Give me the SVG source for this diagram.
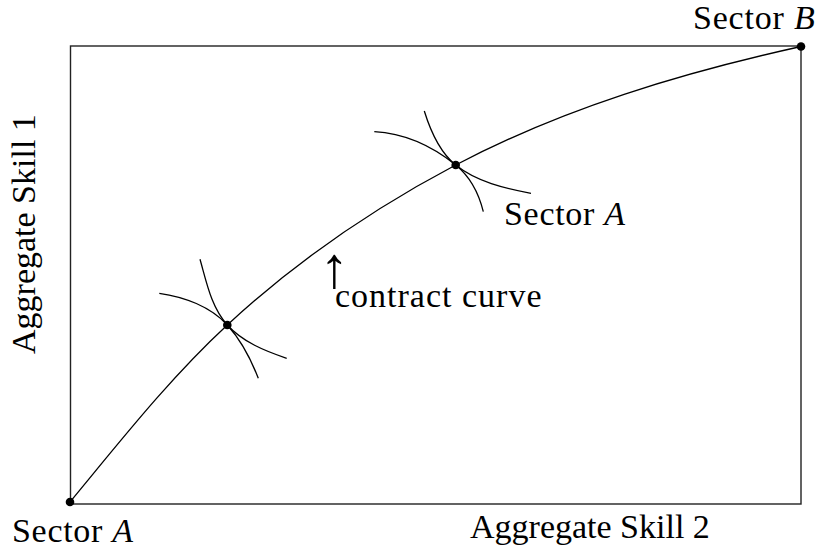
<svg xmlns="http://www.w3.org/2000/svg" width="818" height="548" viewBox="0 0 818 548">
<style>
.ln{fill:none;stroke:#000;stroke-width:1.3}
.box{fill:none;stroke:#222;stroke-width:1.4}
.dot{fill:#000}
.it{font-style:italic}
</style>
<rect width="818" height="548" fill="#fff"/>
<g id="box"><rect class="box" x="70.5" y="46" width="730.5" height="458"/></g>
<g id="connectors">
<path id="contract-curve" class="ln" d="M70,502 C120.4,441.1 169.3,378.7 227.3,325 C295.5,261.8 373.4,208.4 455.7,165 C563.6,108.1 681.9,72.9 801,46.5"/>
<path id="ic-a1" class="ln" d="M200,259.3 C206.6,282.4 211.2,307.2 227.3,325 C242.7,342 264.9,351 286.7,358.3"/>
<path id="ic-b1" class="ln" d="M159.3,293.3 C184.1,296.8 210.6,306.5 227.3,325 C241.1,340.2 250.9,359.1 258.3,378.3"/>
<path id="ic-a2" class="ln" d="M424.3,111 C430.5,131.1 439.3,151.9 455.7,165 C476.8,181.9 504.5,188.2 531,193.3"/>
<path id="ic-b2" class="ln" d="M374.3,131.7 C405,133.4 433.1,146.9 455.7,165 C469.7,176.3 479,194.2 483.3,211.7"/>
</g>
<g id="origin-a"><circle class="dot" cx="70" cy="502" r="4.3"/><text font-family="Liberation Serif" font-size="34" letter-spacing="0.7" x="12" y="542">Sector <tspan class="it">A</tspan></text></g>
<g id="origin-b"><circle class="dot" cx="801" cy="46.5" r="4.3"/><text font-family="Liberation Serif" font-size="34" letter-spacing="0.8" x="693" y="29">Sector <tspan class="it">B</tspan></text></g>
<g id="point-1"><circle class="dot" cx="227.3" cy="325" r="4.3"/></g>
<g id="point-2"><circle class="dot" cx="455.7" cy="165" r="4.3"/></g>
<g id="label-sector-a"><text font-family="Liberation Serif" font-size="34" letter-spacing="0.7" x="504" y="225">Sector <tspan class="it">A</tspan></text></g>
<g id="label-contract"><text font-family="Liberation Serif" font-size="58" x="320" y="287">↑</text><text font-family="Liberation Serif" font-size="34" letter-spacing="1" x="335" y="307">contract curve</text></g>
<g id="axis-x"><text font-family="Liberation Serif" font-size="34" x="470" y="538">Aggregate Skill 2</text></g>
<g id="axis-y"><text font-family="Liberation Serif" font-size="34" transform="translate(35,354) rotate(-90)">Aggregate Skill 1</text></g>
</svg>
